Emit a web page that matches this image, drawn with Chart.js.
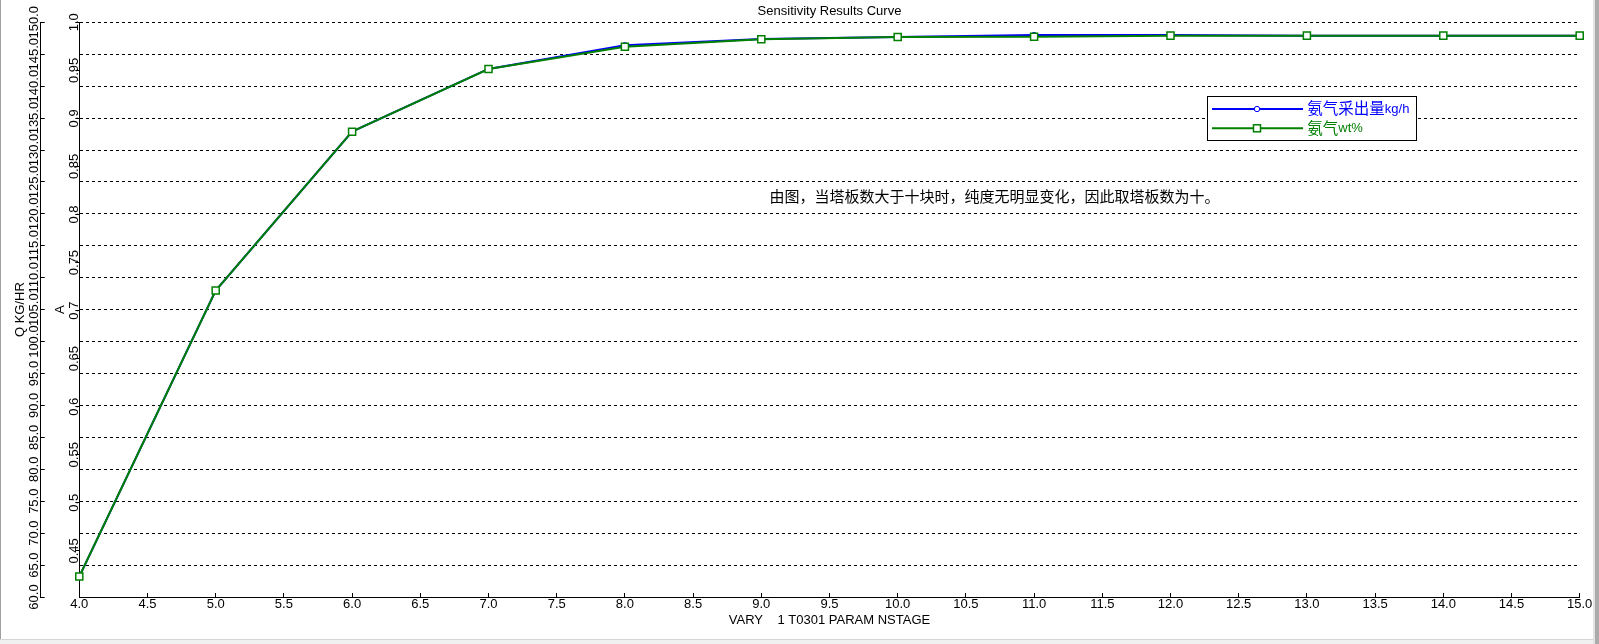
<!DOCTYPE html>
<html><head><meta charset="utf-8">
<script src="https://cdn.jsdelivr.net/npm/chart.js@4.4.1/dist/chart.umd.min.js"></script>
<style>
html,body{margin:0;padding:0;background:#fff;overflow:hidden}
#wrap{position:relative;width:1599px;height:644px}
</style></head><body>
<div id="wrap"><canvas id="c"></canvas></div>
<script>
// ---- data ----
const xValues = [4, 5, 6, 7, 8, 9, 10, 11, 12, 13, 14, 15];
const ammoniaFlow = [63.2, 108.0, 132.9, 142.7, 146.4, 147.4, 147.7, 148.0, 148.0, 147.9, 147.9, 147.9];
const ammoniaWt = [0.4233, 0.7209, 0.8862, 0.9514, 0.9746, 0.9823, 0.9847, 0.9850, 0.9861, 0.9861, 0.9861, 0.9861];
const seriesNames = ['氨气采出量kg/h', '氨气wt%'];
const xTicks = [4, 4.5, 5, 5.5, 6, 6.5, 7, 7.5, 8, 8.5, 9, 9.5, 10, 10.5, 11, 11.5, 12, 12.5, 13, 13.5, 14, 14.5, 15];
const xTickLabels = ['4.0','4.5','5.0','5.5','6.0','6.5','7.0','7.5','8.0','8.5','9.0','9.5','10.0','10.5','11.0','11.5','12.0','12.5','13.0','13.5','14.0','14.5','15.0'];
const qTicks = [60, 65, 70, 75, 80, 85, 90, 95, 100, 105, 110, 115, 120, 125, 130, 135, 140, 145, 150];
const qTickLabels = ['60.0','65.0','70.0','75.0','80.0','85.0','90.0','95.0','100.0','105.0','110.0','115.0','120.0','125.0','130.0','135.0','140.0','145.0','150.0'];
const aTicks = [0.45, 0.5, 0.55, 0.6, 0.65, 0.7, 0.75, 0.8, 0.85, 0.9, 0.95, 1.0];
const aTickLabels = ['0.45','0.5','0.55','0.6','0.65','0.7','0.75','0.8','0.85','0.9','0.95','1.0'];
const qRange = [60, 150];
const aRange = [0.402, 1.0];
const xRange = [4, 15];
const chartTitle = 'Sensitivity Results Curve';
const xTitle = 'VARY    1 T0301 PARAM NSTAGE';
const qTitle = 'Q KG/HR';
const aTitle = 'A';
const note = '由图，当塔板数大于十块时，纯度无明显变化，因此取塔板数为十。';

// ---- styling ----
const LAT = '"Liberation Sans", Arial, sans-serif';
const CJK = '"Noto Sans CJK SC", sans-serif';
const FS = 13;
const BLUE = '#0000ff', GREEN = '#008000';
const mctx = document.createElement('canvas').getContext('2d');
mctx.font = FS + 'px ' + LAT;
const widest = arr => Math.max(...arr.map(s => mctx.measureText(s).width));
const qW = widest(qTickLabels), aW = widest(aTickLabels);
const half = FS * 1.2 / 2;

Chart.defaults.font.family = LAT;
Chart.defaults.font.size = FS;
Chart.defaults.color = '#000';

const decor = {
  id: 'decor',
  afterDraw(chart) {
    const ctx = chart.ctx;
    ctx.save();
    // note text
    const xs = chart.scales.x, qs = chart.scales.q;
    ctx.font = '15px ' + CJK;
    ctx.fillStyle = '#000';
    ctx.textBaseline = 'middle';
    ctx.textAlign = 'left';
    ctx.fillText(note, xs.getPixelForValue(9.06), qs.getPixelForValue(122.7));

    // legend
    const lx = 1207.5, ly = 96.5, lw = 209, lh = 44;
    ctx.fillStyle = '#fff';
    ctx.fillRect(lx, ly, lw, lh);
    ctx.strokeStyle = '#000'; ctx.lineWidth = 1;
    ctx.strokeRect(lx, ly, lw, lh);
    const rows = [109, 128.3];
    chart.data.datasets.forEach((ds, i) => {
      const y = rows[i];
      ctx.strokeStyle = ds.borderColor; ctx.lineWidth = 2;
      ctx.beginPath(); ctx.moveTo(1212, y); ctx.lineTo(1303, y); ctx.stroke();
      ctx.fillStyle = '#fff';
      if (ds.pointStyle === 'rect') {
        ctx.lineWidth = 1.5;
        ctx.fillRect(1253.5, y - 3.5, 7, 7);
        ctx.strokeRect(1253.5, y - 3.5, 7, 7);
      } else {
        ctx.lineWidth = 1;
        ctx.beginPath(); ctx.arc(1257, y, 2.7, 0, Math.PI * 2); ctx.fill(); ctx.stroke();
      }
      let tx = 1307.3;
      const runs = ds.label.match(/[\u3000-\u9fff\uff00-\uffef]+|[^\u3000-\u9fff\uff00-\uffef]+/g);
      ctx.fillStyle = ds.borderColor;
      ctx.textBaseline = 'middle';
      runs.forEach(r => {
        const cjk = /[\u3000-\u9fff]/.test(r);
        ctx.font = cjk ? '15.5px ' + CJK : '13px ' + LAT;
        ctx.fillText(r, tx, cjk ? y - 0.5 : y + 0.5);
        tx += ctx.measureText(r).width;
      });
    });

    // window frame
    ctx.fillStyle = '#a0a0a0'; ctx.fillRect(0, 0, 1, 639);
    ctx.fillStyle = '#f0f0f0'; ctx.fillRect(0, 639, 1599, 5);
    ctx.fillStyle = '#d4d4d4'; ctx.fillRect(0, 639, 1599, 1);
    ctx.fillStyle = '#e3e3e3'; ctx.fillRect(1593, 0, 2, 644);
    ctx.fillStyle = '#ababab'; ctx.fillRect(1595, 0, 4, 644);
    ctx.restore();
  }
};

const setTicks = arr => s => { s.ticks = arr.map(v => ({ value: v })); };

new Chart(document.getElementById('c'), {
  type: 'line',
  data: {
    datasets: [
      {
        label: seriesNames[0], yAxisID: 'q', order: 1,
        data: xValues.map((x, i) => ({ x, y: ammoniaFlow[i] })),
        borderColor: BLUE, borderWidth: 2, tension: 0, clip: false,
        pointStyle: 'circle', pointRadius: 2.7, pointBorderWidth: 1,
        pointBackgroundColor: '#fff', pointBorderColor: BLUE
      },
      {
        label: seriesNames[1], yAxisID: 'a', order: 0,
        data: xValues.map((x, i) => ({ x, y: ammoniaWt[i] })),
        borderColor: GREEN, borderWidth: 2, tension: 0, clip: false,
        pointStyle: 'rect', pointRadius: 5, pointBorderWidth: 1.5,
        pointBackgroundColor: '#fff', pointBorderColor: GREEN
      }
    ]
  },
  options: {
    responsive: true, maintainAspectRatio: false, animation: false,
    layout: { padding: { left: 0, right: 19.3, top: 0, bottom: 0 } },
    plugins: {
      legend: { display: false },
      tooltip: { enabled: false },
      title: {
        display: true, text: chartTitle, color: '#000', fullSize: false,
        font: { size: FS, weight: 'normal', family: LAT },
        padding: { top: 3.6, bottom: 22.3 - 3.6 - FS * 1.2 }
      }
    },
    scales: {
      x: {
        type: 'linear', position: 'bottom', min: xRange[0], max: xRange[1],
        afterBuildTicks: setTicks(xTicks),
        afterFit: s => { s.height = 47; },
        ticks: { autoSkip: false, minRotation: 0, maxRotation: 0, padding: 3.5, color: '#000',
                 callback: (v, i) => xTickLabels[i] },
        grid: { drawOnChartArea: false, color: '#000', tickColor: '#000', tickLength: -4 },
        border: { color: '#000', width: 1 },
        title: { display: true, text: xTitle, color: '#000', padding: { top: 0, bottom: 24 - half } }
      },
      q: {
        type: 'linear', position: 'left', weight: 1, min: qRange[0], max: qRange[1],
        afterBuildTicks: setTicks(qTicks),
        afterFit: s => { s.width = 40.7; },
        ticks: { autoSkip: false, minRotation: 90, maxRotation: 90, crossAlign: 'center',
                 padding: 10.4 - qW / 2, color: '#000', callback: (v, i) => qTickLabels[i] },
        grid: { drawOnChartArea: true, color: '#000', tickColor: '#000', tickLength: -4, tickBorderDash: [] },
        border: { color: '#000', width: 1, dash: [3, 3] },
        title: { display: true, text: qTitle, color: '#000', padding: { top: 20 - half, bottom: 0 } }
      },
      a: {
        type: 'linear', position: 'left', weight: 0, min: aRange[0], max: aRange[1],
        afterBuildTicks: setTicks(aTicks),
        afterFit: s => { s.width = 38.6; },
        ticks: { autoSkip: false, minRotation: 90, maxRotation: 90, crossAlign: 'center',
                 padding: 1.3 - aW / 2, color: '#000', callback: (v, i) => aTickLabels[i] },
        grid: { drawOnChartArea: false, color: '#000', tickColor: '#000', tickLength: 4 },
        border: { color: '#000', width: 1 },
        title: { display: true, text: aTitle, color: '#000', padding: { top: 19.3 - half, bottom: 0 } }
      }
    }
  },
  plugins: [decor]
});
</script>
</body></html>
